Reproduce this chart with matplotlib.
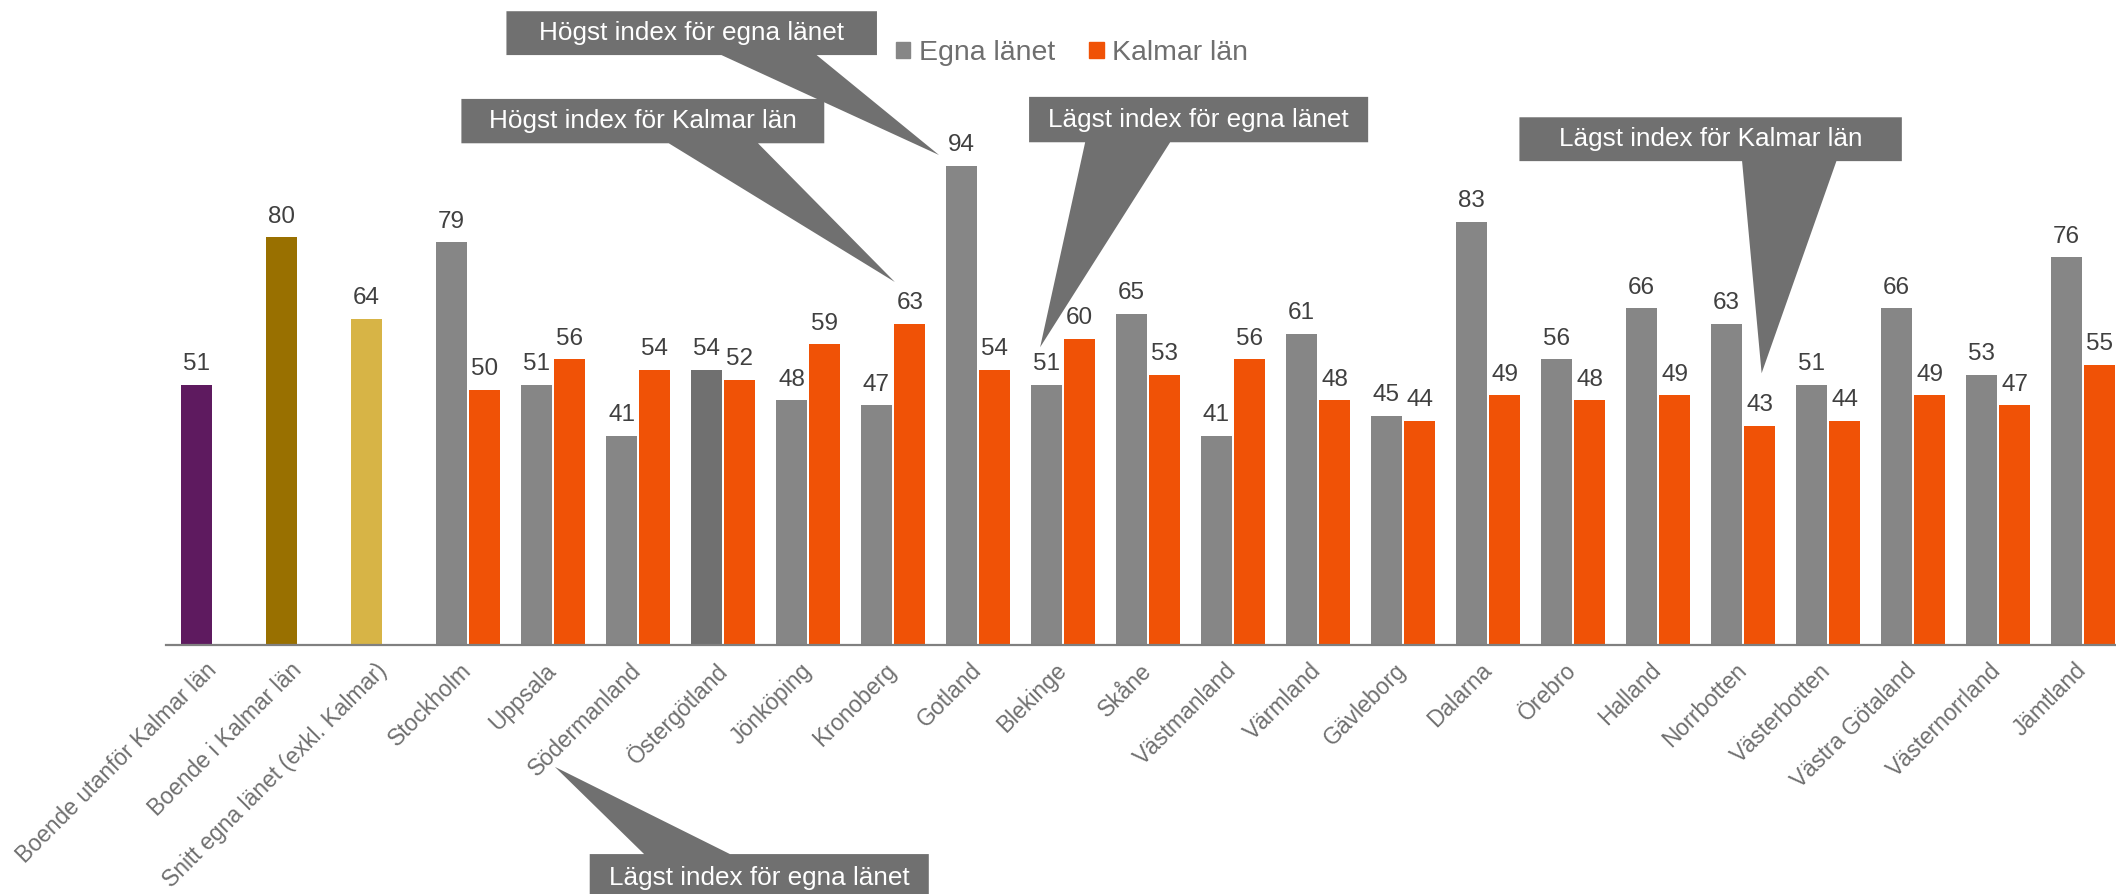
import numpy as np
import matplotlib
matplotlib.use("Agg")
import matplotlib.pyplot as plt
import matplotlib.transforms as mtransforms
from matplotlib.patches import Polygon, Patch

plt.rcParams['font.family'] = ['Liberation Sans', 'DejaVu Sans']

# single bars (totals) followed by one pair of bars per län
total_labels = ["Boende utanför Kalmar län", "Boende i Kalmar län", "Snitt egna länet (exkl. Kalmar)"]
total_values = [51, 80, 64]
total_colors = ["#5E1A5F", "#997000", "#D7B446"]

regions = ["Stockholm", "Uppsala", "Södermanland", "Östergötland", "Jönköping", "Kronoberg",
           "Gotland", "Blekinge", "Skåne", "Västmanland", "Värmland", "Gävleborg", "Dalarna",
           "Örebro", "Halland", "Norrbotten", "Västerbotten", "Västra Götaland",
           "Västernorrland", "Jämtland"]
egna = [79, 51, 41, 54, 48, 47, 94, 51, 65, 41, 61, 45, 83, 56, 66, 63, 51, 66, 53, 76]
kalmar = [50, 56, 54, 52, 59, 63, 54, 60, 53, 56, 48, 44, 49, 48, 49, 43, 44, 49, 47, 55]

GRAY = "#868686"
GRAY_DARK = "#707070"   # Östergötland highlighted
ORANGE = "#F05206"
LABEL = "#404040"
CALLOUT = "#707070"

labels = total_labels + regions
x = np.arange(len(labels))
n0 = len(total_labels)
off = 0.196
w = 0.365

left_vals = total_values + egna
left_cols = total_colors + [GRAY_DARK if r == "Östergötland" else GRAY for r in regions]

fig = plt.figure(figsize=(21.16, 8.94), dpi=100)
ax = fig.add_axes([0.07845, 0.2785, 0.92155, 0.7215])

ax.bar(x - off, left_vals, width=w, color=left_cols, zorder=2)
ax.bar(x[n0:] + off, kalmar, width=w, color=ORANGE, zorder=2)

for xi, v in zip(x - off, left_vals):
    ax.annotate(str(v), (xi, v), xytext=(0, 10.5), textcoords="offset points",
                ha="center", va="baseline", fontsize=17.5, color=LABEL)
for xi, v in zip(x[n0:] + off, kalmar):
    ax.annotate(str(v), (xi, v), xytext=(0, 10.5), textcoords="offset points",
                ha="center", va="baseline", fontsize=17.5, color=LABEL)

ax.set_xlim(-0.556, 22.39)
ax.set_ylim(0, 126.5)
ax.set_yticks([])
for s in ["top", "right", "left"]:
    ax.spines[s].set_visible(False)
ax.spines["bottom"].set_color("#808080")
ax.spines["bottom"].set_linewidth(1.6)
ax.set_xticks(x)
ax.set_xticklabels(labels, rotation=45, ha="right", va="top", rotation_mode="anchor",
                   fontsize=16.5, color="#6F6F6F")
ax.tick_params(axis="x", length=0, pad=10)
# nudge the rotated labels a little to the left
shift = mtransforms.ScaledTranslation(-6 / 72, 0, fig.dpi_scale_trans)
for lab in ax.get_xticklabels():
    lab.set_transform(lab.get_transform() + shift)


def callout(text, box, base, tip, below=False):
    x0, x1, yb, yt = box
    xa, xb = base
    if not below:
        pts = [(x0, yt), (x1, yt), (x1, yb), (xb, yb), tip, (xa, yb), (x0, yb)]
    else:
        pts = [(x0, yb), (x1, yb), (x1, yt), (xb, yt), tip, (xa, yt), (x0, yt)]
    ax.add_patch(Polygon(pts, closed=True, facecolor=CALLOUT, edgecolor="none",
                         clip_on=False, zorder=5))
    ax.text((x0 + x1) / 2, (yb + yt) / 2, text, ha="center", va="center",
            color="white", fontsize=18.8, zorder=6, clip_on=False)


i_got = regions.index("Gotland") + n0
i_kro = regions.index("Kronoberg") + n0
i_ble = regions.index("Blekinge") + n0
i_nor = regions.index("Norrbotten") + n0
i_sod = regions.index("Södermanland") + n0

callout("Högst index för egna länet", (3.45, 7.81, 115.7, 124.3), (5.98, 7.10),
        (i_got - 0.46, egna[i_got - n0] + 2.1))
callout("Högst index för Kalmar län", (2.92, 7.19, 98.4, 107.1), (5.36, 6.41),
        (i_kro + 0.02, kalmar[i_kro - n0] + 8.2))
callout("Lägst index för egna länet", (9.60, 13.59, 98.6, 107.5), (10.26, 11.26),
        (i_ble - 0.27, egna[i_ble - n0] + 7.4))
callout("Lägst index för Kalmar län", (15.37, 19.87, 94.9, 103.5), (17.99, 19.10),
        (i_nor + 0.22, kalmar[i_nor - n0] + 10.3))
callout("Lägst index för egna länet", (4.43, 8.42, -50.5, -41.0), (5.07, 6.08),
        (i_sod - 0.98, -23.9), below=True)

handles = [Patch(color=GRAY), Patch(color=ORANGE)]
fig.legend(handles, ["Egna länet", "Kalmar län"], loc="center left",
           bbox_to_anchor=(0.4235, 0.941), frameon=False, ncol=2, fontsize=20.5,
           handlelength=0.5, handleheight=0.5, handletextpad=0.3,
           columnspacing=1.2, borderpad=0, borderaxespad=0,
           labelcolor="#6F6F6F")

fig.savefig("out.png", dpi=100)
